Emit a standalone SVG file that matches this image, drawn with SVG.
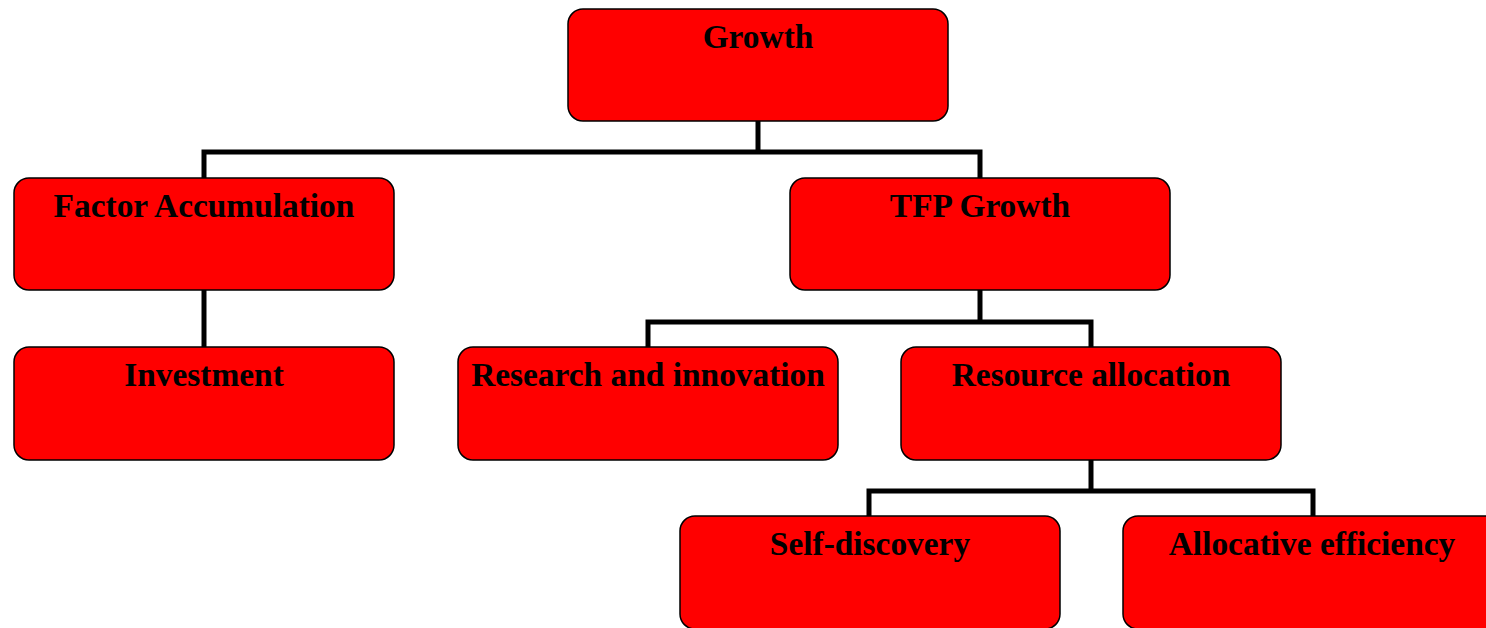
<svg xmlns="http://www.w3.org/2000/svg" width="1486" height="628" viewBox="0 0 1486 628">
  <style>
    .box { fill: #ff0000; stroke: #000000; stroke-width: 1.5; }
    .label { font-family: "Liberation Serif", "Times New Roman", serif; font-weight: bold; font-size: 33.4px; fill: #000000; text-anchor: middle; }
    .link { fill: none; stroke: #000000; stroke-width: 5; stroke-linejoin: miter; stroke-linecap: butt; }
  </style>
  <rect width="1486" height="628" fill="#ffffff"/>

  <!-- connectors -->
  <g id="connectors">
    <path class="link" d="M758,121 V152"/>
    <path class="link" d="M204,178 V152 H980 V178"/>
    <path class="link" d="M204,290 V347"/>
    <path class="link" d="M980,290 V322"/>
    <path class="link" d="M648,347 V322 H1091 V347"/>
    <path class="link" d="M1091,460 V491"/>
    <path class="link" d="M869,516 V491 H1313 V516"/>
  </g>

  <!-- nodes -->
  <g id="growth">
    <rect class="box" x="568" y="9" width="380" height="112" rx="15"/>
    <text class="label" x="758" y="47.5">Growth</text>
  </g>
  <g id="factor-accumulation">
    <rect class="box" x="14" y="178" width="380" height="112" rx="15"/>
    <text class="label" x="204" y="216.5">Factor Accumulation</text>
  </g>
  <g id="tfp-growth">
    <rect class="box" x="790" y="178" width="380" height="112" rx="15"/>
    <text class="label" x="980" y="216.5">TFP Growth</text>
  </g>
  <g id="investment">
    <rect class="box" x="14" y="347" width="380" height="113" rx="15"/>
    <text class="label" x="204" y="386">Investment</text>
  </g>
  <g id="research-innovation">
    <rect class="box" x="458" y="347" width="380" height="113" rx="15"/>
    <text class="label" x="648" y="386">Research and innovation</text>
  </g>
  <g id="resource-allocation">
    <rect class="box" x="901" y="347" width="380" height="113" rx="15"/>
    <text class="label" x="1091" y="386">Resource allocation</text>
  </g>
  <g id="self-discovery">
    <rect class="box" x="680" y="516" width="380" height="113" rx="15"/>
    <text class="label" x="870" y="555">Self-discovery</text>
  </g>
  <g id="allocative-efficiency">
    <rect class="box" x="1123" y="516" width="380" height="113" rx="15"/>
    <text class="label" x="1312" y="555">Allocative efficiency</text>
  </g>
</svg>
